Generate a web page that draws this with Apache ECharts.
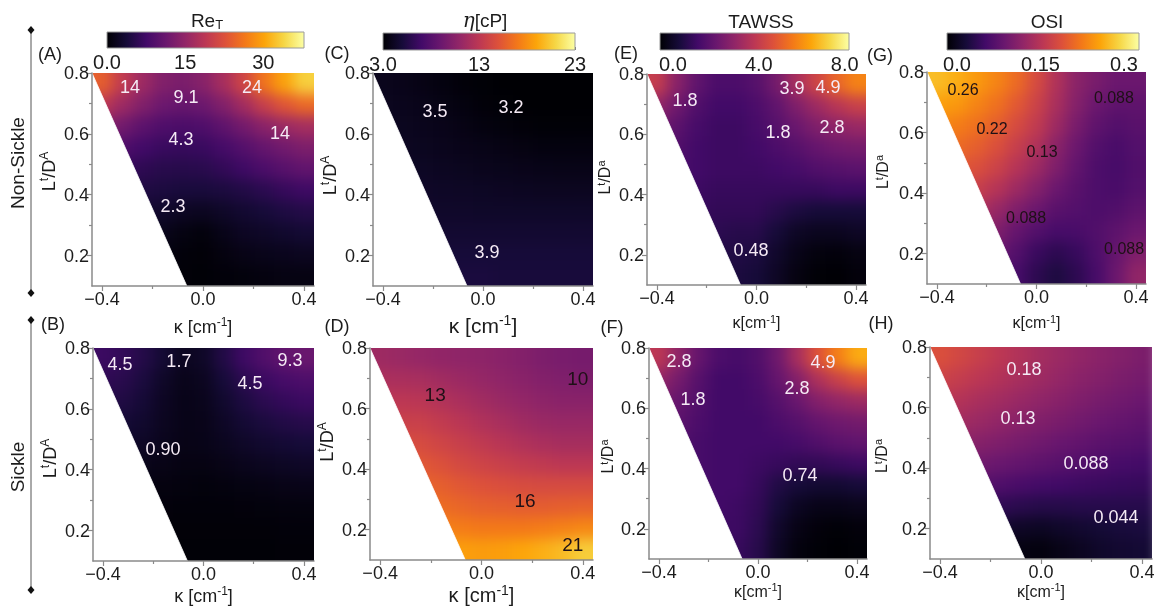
<!DOCTYPE html>
<html><head><meta charset="utf-8">
<script src="https://cdn.jsdelivr.net/npm/echarts@6/dist/echarts.min.js"></script>
<style>
html,body{margin:0;padding:0;background:#fff;}
#wrap{position:relative;width:1160px;height:610px;overflow:hidden;background:#fff;}
#heat,#main{position:absolute;left:0;top:0;width:1160px;height:610px;}
#heat{filter:blur(7px);}
</style></head><body>
<div id="wrap"><div id="heat"></div><div id="main"></div></div>
<script>
// ---------------- DATA ----------------
const kappa = [-0.40,-0.32,-0.24,-0.16,-0.08,0.00,0.08,0.16,0.24,0.32,0.40];
const ltd = [0.765,0.695,0.625,0.555,0.485,0.415,0.345,0.275,0.205,0.135];
const xTicks = [-0.4, 0.0, 0.4];
const xMinorTicks = [-0.2, 0.2];
const yTicks = [0.2, 0.4, 0.6, 0.8];
const yMinorTicks = [0.3, 0.5, 0.7];
const maskVertices = [[-0.44,0.8],[-0.44,0.1],[-0.064,0.1]];

// (A) Re_T non-sickle
const reT_nonSickle = [
 [24, 19.5, 16, 13.5, 12.8, 14, 17, 21, 26, 30, 33.5],
 [19, 16, 13.5, 11.5, 11, 11.5, 13.5, 16.5, 20, 23, 25],
 [14, 12, 10, 8.8, 8.4, 8.8, 10.2, 12.2, 14.2, 15.8, 16.8],
 [10, 8.8, 7.6, 6.8, 6.6, 6.8, 7.8, 9.2, 10.8, 12, 13],
 [7.5, 6.6, 5.8, 5.3, 5.2, 5.4, 6.2, 7.2, 8.4, 9.5, 10.5],
 [5.6, 5.0, 4.6, 4.3, 4.0, 4.0, 4.3, 4.8, 5.6, 6.5, 7.2],
 [4.0, 3.6, 3.2, 2.8, 2.2, 2.0, 2.6, 3.2, 3.8, 4.5, 5.0],
 [2.6, 2.3, 2.0, 1.6, 0.9, 0.6, 1.4, 2.2, 2.6, 3.0, 3.4],
 [1.6, 1.4, 1.2, 0.9, 0.4, 0.3, 0.8, 1.3, 1.6, 1.8, 2.0],
 [1.0, 0.9, 0.8, 0.6, 0.3, 0.2, 0.4, 0.6, 0.8, 1.0, 1.0]
];
// (B) Re_T sickle
const reT_sickle = [
 [7.0, 6.2, 5.0, 3.4, 2.0, 2.6, 4.8, 7.2, 9.0, 10.5, 11.2],
 [6.0, 5.4, 4.2, 2.6, 1.6, 2.0, 3.8, 5.6, 7.0, 8.0, 8.6],
 [5.0, 4.6, 3.6, 2.2, 1.4, 1.7, 3.0, 4.4, 5.6, 6.4, 7.0],
 [4.0, 3.6, 3.0, 2.0, 1.4, 1.5, 2.4, 3.4, 4.2, 4.8, 5.2],
 [3.0, 2.8, 2.4, 1.8, 1.3, 1.4, 1.9, 2.6, 3.1, 3.5, 3.8],
 [2.0, 1.8, 1.6, 1.3, 1.0, 1.0, 1.3, 1.7, 2.0, 2.3, 2.5],
 [1.2, 1.0, 0.9, 0.8, 0.7, 0.6, 0.7, 0.9, 1.1, 1.3, 1.4],
 [0.7, 0.6, 0.5, 0.5, 0.4, 0.4, 0.4, 0.5, 0.6, 0.7, 0.7],
 [0.4, 0.4, 0.3, 0.3, 0.3, 0.3, 0.3, 0.3, 0.3, 0.4, 0.4],
 [0.3, 0.3, 0.3, 0.2, 0.2, 0.2, 0.2, 0.2, 0.2, 0.3, 0.3]
];
// (C) viscosity non-sickle
const eta_nonSickle = [
 [3.9, 3.8, 3.6, 3.4, 3.2, 3.1, 3.0, 3.0, 3.0, 3.0, 3.0],
 [4.0, 3.9, 3.8, 3.6, 3.4, 3.2, 3.1, 3.0, 3.0, 3.0, 3.0],
 [4.1, 4.0, 3.9, 3.8, 3.6, 3.4, 3.3, 3.2, 3.1, 3.1, 3.1],
 [4.2, 4.1, 4.0, 3.9, 3.8, 3.7, 3.6, 3.5, 3.4, 3.4, 3.4],
 [4.3, 4.25, 4.2, 4.1, 4.0, 3.9, 3.85, 3.8, 3.75, 3.7, 3.7],
 [4.45, 4.4, 4.35, 4.3, 4.25, 4.2, 4.15, 4.1, 4.05, 4.05, 4.05],
 [4.6, 4.55, 4.5, 4.45, 4.45, 4.4, 4.4, 4.4, 4.4, 4.4, 4.4],
 [4.8, 4.75, 4.7, 4.7, 4.7, 4.7, 4.7, 4.7, 4.7, 4.7, 4.7],
 [5.0, 5.0, 5.0, 5.0, 5.0, 5.0, 5.0, 5.0, 5.0, 5.0, 5.0],
 [5.2, 5.2, 5.2, 5.2, 5.2, 5.2, 5.1, 5.1, 5.1, 5.1, 5.1]
];
// (D) viscosity sickle
const eta_sickle = [
 [11.5, 11.3, 11.1, 10.9, 10.8, 10.7, 10.5, 10.2, 9.9, 9.7, 9.6],
 [12.2, 12.1, 12.0, 11.7, 11.4, 11.1, 10.8, 10.5, 10.2, 10.0, 9.9],
 [13.0, 13.0, 12.9, 12.5, 12.1, 11.7, 11.3, 11.0, 10.7, 10.5, 10.5],
 [13.8, 13.8, 13.7, 13.3, 12.9, 12.4, 12.0, 11.6, 11.3, 11.2, 11.2],
 [14.8, 14.7, 14.5, 14.1, 13.6, 13.2, 12.8, 12.4, 12.1, 11.9, 11.9],
 [15.6, 15.5, 15.3, 14.9, 14.4, 14.0, 13.7, 13.4, 13.2, 13.0, 13.0],
 [16.2, 16.1, 16.0, 15.7, 15.3, 15.0, 14.8, 14.6, 14.5, 14.5, 14.5],
 [16.9, 16.8, 16.7, 16.4, 16.1, 15.8, 15.7, 15.6, 15.6, 15.7, 15.8],
 [17.8, 17.7, 17.6, 17.4, 17.2, 17.0, 17.0, 17.0, 17.2, 17.4, 17.7],
 [19.0, 19.0, 18.9, 18.8, 18.7, 18.6, 18.7, 19.0, 19.4, 19.9, 20.6]
];
// (E) TAWSS non-sickle
const tawss_nonSickle = [
 [4.2, 3.0, 2.2, 1.8, 1.8, 2.0, 2.6, 3.6, 4.4, 5.2, 5.8],
 [3.2, 2.5, 1.9, 1.6, 1.6, 1.8, 2.2, 2.8, 3.4, 3.9, 4.3],
 [2.6, 2.1, 1.7, 1.5, 1.5, 1.7, 2.0, 2.4, 2.8, 3.1, 3.3],
 [2.2, 1.9, 1.6, 1.5, 1.5, 1.6, 1.8, 2.0, 2.3, 2.5, 2.6],
 [2.0, 1.8, 1.6, 1.5, 1.5, 1.5, 1.6, 1.7, 1.9, 2.0, 2.1],
 [1.8, 1.6, 1.5, 1.4, 1.4, 1.4, 1.4, 1.4, 1.4, 1.5, 1.5],
 [1.6, 1.5, 1.4, 1.3, 1.3, 1.3, 1.1, 0.9, 0.8, 0.8, 0.8],
 [1.4, 1.3, 1.2, 1.2, 1.1, 1.1, 0.8, 0.5, 0.4, 0.4, 0.5],
 [1.2, 1.1, 1.0, 1.0, 1.0, 0.9, 0.6, 0.3, 0.15, 0.1, 0.2],
 [1.0, 1.0, 1.0, 0.9, 0.9, 0.8, 0.5, 0.2, 0.05, 0.0, 0.1]
];
// (F) TAWSS sickle
const tawss_sickle = [
 [4.0, 3.1, 2.3, 1.8, 1.7, 1.9, 2.5, 3.6, 4.8, 5.7, 6.5],
 [3.2, 2.6, 2.0, 1.6, 1.6, 1.8, 2.3, 2.9, 3.7, 4.3, 4.8],
 [2.7, 2.3, 1.9, 1.6, 1.6, 1.7, 2.0, 2.4, 2.9, 3.2, 3.4],
 [2.4, 2.1, 1.8, 1.6, 1.6, 1.6, 1.8, 2.0, 2.3, 2.5, 2.6],
 [2.2, 1.9, 1.7, 1.6, 1.6, 1.6, 1.6, 1.7, 1.9, 2.1, 2.2],
 [2.0, 1.8, 1.7, 1.6, 1.6, 1.5, 1.4, 1.3, 1.3, 1.4, 1.5],
 [1.9, 1.8, 1.7, 1.6, 1.6, 1.4, 1.0, 0.8, 0.7, 0.7, 0.8],
 [1.8, 1.7, 1.6, 1.6, 1.5, 1.3, 0.8, 0.45, 0.3, 0.3, 0.35],
 [1.7, 1.6, 1.6, 1.5, 1.5, 1.2, 0.6, 0.25, 0.1, 0.05, 0.1],
 [1.6, 1.6, 1.5, 1.5, 1.4, 1.1, 0.5, 0.15, 0.05, 0.0, 0.05]
];
// (G) OSI non-sickle
const osi_nonSickle = [
 [0.28, 0.27, 0.255, 0.24, 0.22, 0.19, 0.155, 0.125, 0.11, 0.10, 0.10],
 [0.26, 0.255, 0.24, 0.225, 0.205, 0.18, 0.15, 0.12, 0.10, 0.09, 0.09],
 [0.245, 0.235, 0.225, 0.21, 0.19, 0.17, 0.14, 0.11, 0.09, 0.08, 0.085],
 [0.23, 0.22, 0.21, 0.195, 0.175, 0.155, 0.125, 0.10, 0.08, 0.072, 0.08],
 [0.215, 0.205, 0.195, 0.18, 0.16, 0.14, 0.115, 0.092, 0.075, 0.07, 0.078],
 [0.2, 0.19, 0.175, 0.16, 0.14, 0.12, 0.1, 0.085, 0.075, 0.072, 0.08],
 [0.18, 0.17, 0.155, 0.135, 0.115, 0.1, 0.085, 0.08, 0.075, 0.078, 0.088],
 [0.16, 0.15, 0.135, 0.115, 0.095, 0.08, 0.07, 0.072, 0.078, 0.088, 0.1],
 [0.14, 0.13, 0.115, 0.1, 0.08, 0.06, 0.05, 0.058, 0.075, 0.095, 0.115],
 [0.12, 0.11, 0.1, 0.085, 0.07, 0.05, 0.038, 0.05, 0.07, 0.1, 0.13]
];
// (H) OSI sickle
const osi_sickle = [
 [0.195, 0.185, 0.175, 0.165, 0.155, 0.145, 0.138, 0.13, 0.124, 0.118, 0.113],
 [0.18, 0.172, 0.164, 0.156, 0.148, 0.14, 0.132, 0.124, 0.118, 0.112, 0.108],
 [0.165, 0.158, 0.15, 0.143, 0.136, 0.129, 0.122, 0.115, 0.109, 0.104, 0.1],
 [0.15, 0.144, 0.137, 0.13, 0.123, 0.117, 0.111, 0.105, 0.099, 0.094, 0.09],
 [0.133, 0.127, 0.121, 0.115, 0.109, 0.103, 0.097, 0.092, 0.087, 0.083, 0.08],
 [0.115, 0.109, 0.103, 0.098, 0.093, 0.088, 0.083, 0.078, 0.074, 0.07, 0.068],
 [0.095, 0.089, 0.083, 0.077, 0.072, 0.068, 0.065, 0.062, 0.06, 0.058, 0.057],
 [0.07, 0.064, 0.058, 0.052, 0.048, 0.045, 0.045, 0.046, 0.046, 0.046, 0.046],
 [0.045, 0.04, 0.034, 0.028, 0.022, 0.02, 0.024, 0.028, 0.032, 0.035, 0.037],
 [0.03, 0.025, 0.02, 0.014, 0.008, 0.006, 0.012, 0.018, 0.024, 0.028, 0.03]
];

// contour labels [kappa, L/D, text]
const contourLabels_A = [[-0.289,0.754,'14'],[-0.067,0.721,'9.1'],[0.194,0.754,'24'],[-0.087,0.583,'4.3'],[0.305,0.603,'14'],[-0.119,0.363,'2.3']];
const contourLabels_B = [[-0.332,0.747,'4.5'],[-0.098,0.757,'1.7'],[0.344,0.76,'9.3'],[0.185,0.685,'4.5'],[-0.161,0.468,'0.90']];
const contourLabels_C = [[0.112,0.688,'3.2'],[-0.192,0.675,'3.5'],[0.016,0.212,'3.9']];
const contourLabels_D = [[-0.183,0.648,'13'],[0.172,0.295,'16'],[0.38,0.70,'10'],[0.36,0.15,'21']];
const contourLabels_E = [[-0.287,0.714,'1.8'],[0.143,0.754,'3.9'],[0.287,0.757,'4.9'],[0.086,0.608,'1.8'],[0.303,0.624,'2.8'],[-0.022,0.216,'0.48']];
const contourLabels_F = [[-0.319,0.757,'2.8'],[-0.262,0.631,'1.8'],[0.262,0.753,'4.9'],[0.157,0.667,'2.8'],[0.17,0.379,'0.74']];
const contourLabels_G = [[-0.295,0.741,'0.26'],[-0.179,0.615,'0.22'],[0.022,0.536,'0.13'],[0.311,0.717,'0.088'],[-0.042,0.318,'0.088'],[0.352,0.216,'0.088']];
const contourLabels_H = [[-0.067,0.727,'0.18'],[-0.091,0.566,'0.13'],[0.178,0.417,'0.088'],[0.297,0.239,'0.044']];

// colorbars
const cbTitles = ['{b|Re}{sub|T}', '{i|η}{b|[cP]}', '{b|TAWSS}', '{b|OSI}'];
const cbColorMin = [0, 3, 0, 0];
const cbColorMax = [37.8, 23, 8, 0.33];
const cbAxisMin = [0, 3, -0.6, -0.018];
const cbAxisMax = [37.8, 23, 8.2, 0.327];
const cbTickValues = [[0,15,30],[3,13,23],[0,4,8],[0,0.15,0.3]];
const cbTickLabels = [['0.0','15','30'],['3.0','13','23'],['0.0','4.0','8.0'],['0.0','0.15','0.3']];
const panelLetters = ['(A)','(C)','(E)','(G)','(B)','(D)','(F)','(H)'];
const rowLabels = ['Non-Sickle','Sickle'];

// ---------------- STYLE / LAYOUT ----------------
const FONT = '"Liberation Sans", Arial, sans-serif';
const TXT = '#1c1c1c';
const AXC = '#8a8a8a';
const inferno = ['#000004','#160b39','#420a68','#6a176e','#932667','#bc3754','#dd513a','#f37819','#fca50a','#f6d746','#fcffa4'];
const X_MIN = -0.44, X_MAX = 0.44, Y_MIN = 0.1, Y_MAX = 0.8;
const LIGHT = '#f5eaf5', DARK = '#1e1016';

const panels = [
 {field: reT_nonSickle,  cb:0, rect:[92,73,222,213],  labels:contourLabels_A, lc:LIGHT, lfs:18, xn:'κ [cm{s|-1}]', xfs:18, xgap:30, yn:'L{s|t}/D{s|A}', yfs:18, ygap:31, yshift:8,  letter:[50,54]},
 {field: eta_nonSickle,  cb:1, rect:[373,73,220,213], labels:contourLabels_C, lc:LIGHT, lfs:18, xn:'κ [cm{s|-1}]', xfs:21, xgap:27, yn:'L{s|t}/D{s|A}', yfs:18, ygap:29, yshift:4,  letter:[337,53]},
 {field: tawss_nonSickle,cb:2, rect:[647,74,219,211], labels:contourLabels_E, lc:LIGHT, lfs:18, xn:'κ[cm{s|-1}]',  xfs:16, xgap:28, yn:'L{s|t}/D{s|a}', yfs:16, ygap:33, yshift:2,  letter:[626,53]},
 {field: osi_nonSickle,  cb:3, rect:[927,72,219,212], labels:contourLabels_G, lc:DARK,  lfs:16, xn:'κ[cm{s|-1}]',  xfs:16, xgap:29, yn:'L{s|t}/D{s|a}', yfs:16, ygap:35, yshift:6,  letter:[880,55]},
 {field: reT_sickle,     cb:0, rect:[93,348,221,213], labels:contourLabels_B, lc:LIGHT, lfs:18, xn:'κ [cm{s|-1}]', xfs:18, xgap:24, yn:'L{s|t}/D{s|A}', yfs:18, ygap:27, yshift:-4, letter:[53,324]},
 {field: eta_sickle,     cb:1, rect:[370,348,223,212],labels:contourLabels_D, lc:DARK,  lfs:19, xn:'κ [cm{s|-1}]', xfs:20, xgap:23, yn:'L{s|t}/D{s|A}', yfs:18, ygap:31, yshift:12, letter:[337,326]},
 {field: tawss_sickle,   cb:2, rect:[649,348,218,211],labels:contourLabels_F, lc:LIGHT, lfs:18, xn:'κ[cm{s|-1}]',  xfs:16, xgap:22, yn:'L{s|t}/D{s|a}', yfs:16, ygap:30, yshift:-3, letter:[612,327]},
 {field: osi_sickle,     cb:3, rect:[930,347,222,212],labels:contourLabels_H, lc:LIGHT, lfs:18, xn:'κ[cm{s|-1}]',  xfs:16, xgap:22, yn:'L{s|t}/D{s|a}', yfs:16, ygap:39, yshift:-3, letter:[881,323]}
];
const cbRects = [[107,32,197,16],[383,33,192,17],[660,33,189,17],[947,33,192,17]];
const cbTitlePos = [[207,20],[485,20],[761,21],[1047,21]];

// ---------------- HEAT LAYER (blurred, clipped) ----------------
const heatDiv = document.getElementById('heat');
heatDiv.style.clipPath = "path('" + panels.map(p => `M${p.rect[0]} ${p.rect[1]} h${p.rect[2]} v${p.rect[3]} h${-p.rect[2]} Z`).join(' ') + "')";
const heat = echarts.init(heatDiv, null, {renderer:'canvas'});
const halfK = (kappa[1]-kappa[0])/2, halfL = (ltd[0]-ltd[1])/2, EDGE_PAD = 28;
function renderCell(params, api){
  const k = api.value(0), l = api.value(1), ci = api.value(3), ri = api.value(4);
  const a = api.coord([k-halfK, l+halfL]), b = api.coord([k+halfK, l-halfL]);
  let x0=a[0], y0=a[1], x1=b[0], y1=b[1];
  if (ci===0) x0 -= EDGE_PAD; if (ci===kappa.length-1) x1 += EDGE_PAD;
  if (ri===0) y0 -= EDGE_PAD; if (ri===ltd.length-1) y1 += EDGE_PAD;
  return {type:'rect', shape:{x:x0, y:y0, width:x1-x0+1, height:y1-y0+1}, style:{fill: api.visual('color')}};
}
const hOpt = {animation:false, grid:[], xAxis:[], yAxis:[], visualMap:[], series:[]};
panels.forEach((p,i)=>{
  hOpt.grid.push({left:p.rect[0], top:p.rect[1], width:p.rect[2], height:p.rect[3]});
  hOpt.xAxis.push({type:'value', gridIndex:i, min:X_MIN, max:X_MAX, show:false});
  hOpt.yAxis.push({type:'value', gridIndex:i, min:Y_MIN, max:Y_MAX, show:false});
  hOpt.visualMap.push({type:'continuous', show:false, seriesIndex:i, dimension:2, min:cbColorMin[p.cb], max:cbColorMax[p.cb], inRange:{color:inferno}});
  const data = [];
  p.field.forEach((row,ri)=>row.forEach((v,ci)=>data.push([kappa[ci], ltd[ri], v, ci, ri])));
  hOpt.series.push({type:'custom', xAxisIndex:i, yAxisIndex:i, data, encode:{x:0,y:1}, renderItem:renderCell, silent:true});
});
heat.setOption(hOpt);

// ---------------- MAIN LAYER (axes, masks, text) ----------------
const main = echarts.init(document.getElementById('main'), null, {renderer:'svg'});
const opt = {animation:false, textStyle:{fontFamily:FONT}, grid:[], xAxis:[], yAxis:[], series:[], graphic:[]};
const supRich = (fs)=>({s:{fontSize:Math.round(fs*0.68), verticalAlign:'top', lineHeight:Math.round(fs*0.68), fontFamily:FONT, color:TXT}});
const fmtTick = v => (v<0?'\u2212':'') + Math.abs(v).toFixed(1);

panels.forEach((p,i)=>{
  opt.grid.push({left:p.rect[0], top:p.rect[1], width:p.rect[2], height:p.rect[3]});
  const g = i;
  // major x
  opt.xAxis.push({type:'value', gridIndex:g, min:X_MIN, max:X_MAX, z:10, position:'bottom',
    axisLine:{show:true, onZero:false, lineStyle:{color:AXC, width:1.5}},
    axisTick:{show:true, inside:false, length:5, customValues:xTicks, lineStyle:{color:AXC, width:1.2}},
    axisLabel:{show:true, customValues:xTicks, formatter:fmtTick, fontSize:18, color:TXT, margin:4, fontFamily:FONT},
    splitLine:{show:false},
    name:p.xn, nameLocation:'middle', nameGap:p.xgap,
    nameTextStyle:{fontSize:p.xfs, color:TXT, fontFamily:FONT, lineHeight:Math.round(p.xfs*1.2), rich:supRich(p.xfs)}});
  // minor x
  opt.xAxis.push({type:'value', gridIndex:g, min:X_MIN, max:X_MAX, z:10, position:'bottom',
    axisLine:{show:false, onZero:false}, axisTick:{show:true, inside:false, length:3, customValues:xMinorTicks, lineStyle:{color:AXC, width:1.2}},
    axisLabel:{show:false}, splitLine:{show:false}});
  // major y
  const pad = p.yshift>=0 ? [0,0,0,2*p.yshift] : [0,-2*p.yshift,0,0];
  opt.yAxis.push({type:'value', gridIndex:g, min:Y_MIN, max:Y_MAX, z:10, position:'left',
    axisLine:{show:true, onZero:false, lineStyle:{color:AXC, width:1.5}},
    axisTick:{show:true, inside:false, length:5, customValues:yTicks, lineStyle:{color:AXC, width:1.2}},
    axisLabel:{show:true, customValues:yTicks, formatter:fmtTick, fontSize:18, color:TXT, margin:3, fontFamily:FONT},
    splitLine:{show:false},
    name:p.yn, nameLocation:'middle', nameGap:p.ygap,
    nameTextStyle:{fontSize:p.yfs, color:TXT, fontFamily:FONT, lineHeight:Math.round(p.yfs*1.2), padding:pad, rich:supRich(p.yfs)}});
  // minor y
  opt.yAxis.push({type:'value', gridIndex:g, min:Y_MIN, max:Y_MAX, z:10, position:'left',
    axisLine:{show:false, onZero:false}, axisTick:{show:true, inside:false, length:3, customValues:yMinorTicks, lineStyle:{color:AXC, width:1.2}},
    axisLabel:{show:false}, splitLine:{show:false}});
  const xi = 2*i, yi = 2*i;
  // mask (white triangle where no geometry exists)
  opt.series.push({type:'custom', xAxisIndex:xi, yAxisIndex:yi, data:[maskVertices[0]], encode:{x:0,y:1}, z:2, silent:true,
    renderItem:(params, api)=>({type:'polygon', shape:{points:maskVertices.map(v=>api.coord(v))}, style:{fill:'#ffffff', stroke:'#ffffff', lineWidth:0.8}})});
  // contour labels
  const labs = p.labels;
  opt.series.push({type:'custom', xAxisIndex:xi, yAxisIndex:yi, data:labs.map(d=>[d[0],d[1]]), encode:{x:0,y:1}, z:12, silent:true,
    renderItem:(params, api)=>{
      const pt = api.coord([api.value(0), api.value(1)]);
      return {type:'text', x:pt[0], y:pt[1], style:{text:labs[params.dataIndex][2], fill:p.lc, fontSize:p.lfs, fontFamily:FONT, align:'center', verticalAlign:'middle'}};
    }});
  // panel letter
  opt.graphic.push({type:'text', x:p.letter[0], y:p.letter[1], style:{text:panelLetters[i], fill:TXT, fontSize:18, fontFamily:FONT, align:'center', verticalAlign:'middle'}});
});

// colorbars
const nPanelX = opt.xAxis.length, nPanelY = opt.yAxis.length, nPanelG = opt.grid.length;
cbRects.forEach((r,c)=>{
  const g = nPanelG + c;
  opt.grid.push({left:r[0], top:r[1], width:r[2], height:r[3]});
  opt.xAxis.push({type:'value', gridIndex:g, min:cbAxisMin[c], max:cbAxisMax[c], position:'bottom',
    axisLine:{show:false, onZero:false}, axisTick:{show:true, inside:true, length:3, customValues:cbTickValues[c], lineStyle:{color:'#777'}},
    axisLabel:{show:true, customValues:cbTickValues[c], fontSize:20, color:TXT, margin:4, fontFamily:FONT,
      formatter:(v)=>{const vals=cbTickValues[c]; let bi=0; vals.forEach((t,j)=>{if(Math.abs(t-v)<Math.abs(vals[bi]-v)) bi=j;}); return cbTickLabels[c][bi];}},
    splitLine:{show:false}});
  opt.yAxis.push({type:'value', gridIndex:g, min:0, max:1, show:false});
  const stops = inferno.map((col,j)=>({offset:j/(inferno.length-1), color:col}));
  opt.series.push({type:'custom', xAxisIndex:nPanelX + c, yAxisIndex:nPanelY + c, data:[[cbAxisMin[c],0]], encode:{x:0,y:1}, silent:true, z:3,
    renderItem:(params, api)=>{
      const cs = params.coordSys;
      return {type:'rect', shape:{x:cs.x, y:cs.y, width:cs.width, height:cs.height},
        style:{fill:new echarts.graphic.LinearGradient(0,0,1,0,stops), stroke:'#9a9a9a', lineWidth:1}};
    }});
  opt.graphic.push({type:'text', x:cbTitlePos[c][0], y:cbTitlePos[c][1], style:{text:cbTitles[c], align:'center', verticalAlign:'middle', fill:TXT,
    rich:{b:{fontSize:19, fontFamily:FONT, color:TXT, lineHeight:22},
          sub:{fontSize:13, fontFamily:FONT, color:TXT, verticalAlign:'bottom', lineHeight:13},
          i:{fontSize:20, fontStyle:'italic', fontFamily:'"DejaVu Serif", serif', color:TXT, lineHeight:22}}}});
});

// row labels and brackets
const rowPos = [[17,163],[17,467]];
const brackets = [[31,30,293],[31,320,590]];
rowLabels.forEach((t,j)=>{
  opt.graphic.push({type:'text', x:rowPos[j][0], y:rowPos[j][1], rotation:Math.PI/2,
    style:{text:t, fill:TXT, fontSize:19, fontFamily:FONT, align:'center', verticalAlign:'middle'}});
  const b = brackets[j];
  opt.graphic.push({type:'line', shape:{x1:b[0], y1:b[1], x2:b[0], y2:b[2]}, style:{stroke:'#555', lineWidth:1}});
  [b[1], b[2]].forEach(y=>{
    opt.graphic.push({type:'polygon', shape:{points:[[b[0],y-4],[b[0]+3.5,y],[b[0],y+4],[b[0]-3.5,y]]}, style:{fill:'#111'}});
  });
});

main.setOption(opt);
</script>
</body></html>
